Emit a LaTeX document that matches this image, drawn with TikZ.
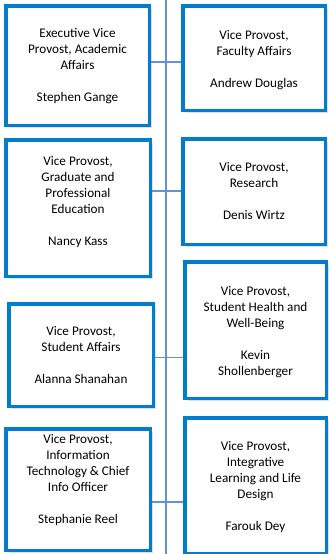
\documentclass[tikz,border=0pt]{standalone}
\usepackage{fontspec}
\setmainfont{Carlito}
\usetikzlibrary{calc,shadows}
\definecolor{boxblue}{RGB}{0,126,204}
\definecolor{spineblue}{RGB}{98,148,212}
\tikzset{
  unitbox/.style={rectangle, draw=boxblue, line width=3.5pt, fill=white, inner sep=0pt,
    drop shadow={shadow xshift=2.8pt, shadow yshift=-2.8pt, fill=black, opacity=0.12}},
  unittext/.style={align=center, font=\fontsize{13.2}{16}\selectfont, text=black, inner sep=0pt},
  spine/.style={draw=spineblue, line width=1.6pt},
  link/.style={draw=spineblue, line width=1.5pt},
}

\begin{document}
\begin{tikzpicture}[x=1pt, y=-1pt]
			%%%%% START %%%%%
			\useasboundingbox (0,0) rectangle (329,554);
			
			\coordinate (top) at (166,0);
			\coordinate (bot) at (166,554);
			\draw[spine] (top) -- (bot);
			
			\coordinate (j1) at (166,62);
			\coordinate (j2) at (166,191);
			\coordinate (j3) at (166,357.5);
			\coordinate (j4) at (166,502);
			
			% left column
			\node[unitbox, minimum width=143.5pt, minimum height=119.5pt,
			  label={[unittext, yshift=-1pt]center:{Executive Vice\\ Provost, Academic\\ Affairs\\[16pt] Stephen Gange}}] (evpaa) at (77.5,65.5) {};
			\node[unitbox, minimum width=144.5pt, minimum height=136.5pt,
			  label={[unittext, yshift=5.5pt]center:{Vice Provost,\\ Graduate and\\ Professional\\ Education\\[16pt] Nancy Kass}}] (vpgpe) at (78,208) {};
			\node[unitbox, minimum width=144.5pt, minimum height=102.5pt,
			  label={[unittext]center:{Vice Provost,\\ Student Affairs\\[16pt] Alanna Shanahan}}] (vpsa) at (81,355) {};
			\node[unitbox, minimum width=144.5pt, minimum height=121.5pt,
			  label={[unittext, yshift=9pt]center:{Vice Provost,\\ Information\\ Technology \& Chief\\ Info Officer\\[16pt] Stephanie Reel}}] (vpit) at (78,489.5) {};
			
			% right column
			\node[unitbox, minimum width=142.5pt, minimum height=104.5pt,
			  label={[unittext, yshift=-2pt]center:{Vice Provost,\\ Faculty Affairs\\[16pt] Andrew Douglas}}] (vpfa) at (254,58) {};
			\node[unitbox, minimum width=142.5pt, minimum height=105.5pt,
			  label={[unittext]center:{Vice Provost,\\ Research\\[16pt] Denis Wirtz}}] (vpres) at (254,191.5) {};
			\node[unitbox, minimum width=141.5pt, minimum height=136.5pt,
			  label={[unittext, yshift=-2pt]center:{Vice Provost,\\ Student Health and\\ Well-Being\\[16pt] Kevin\\ Shollenberger}}] (vpshw) at (255.5,330) {};
			\node[unitbox, minimum width=141.5pt, minimum height=135.5pt,
			  label={[unittext, yshift=-1.5pt]center:{Vice Provost,\\ Integrative\\ Learning and Life\\ Design\\[16pt] Farouk Dey}}] (vpild) at (255.5,485.5) {};
			
			% connectors to the spine
			\draw[link] (evpaa.east |- j1) -- (vpfa.west |- j1);
			\draw[link] (vpgpe.east |- j2) -- (vpres.west |- j2);
			\draw[link] (vpsa.east |- j3) -- (vpshw.west |- j3);
			\draw[link] (vpit.east |- j4) -- (vpild.west |- j4);
			
			%%%%% END %%%%%
		\end{tikzpicture}
\end{document}
